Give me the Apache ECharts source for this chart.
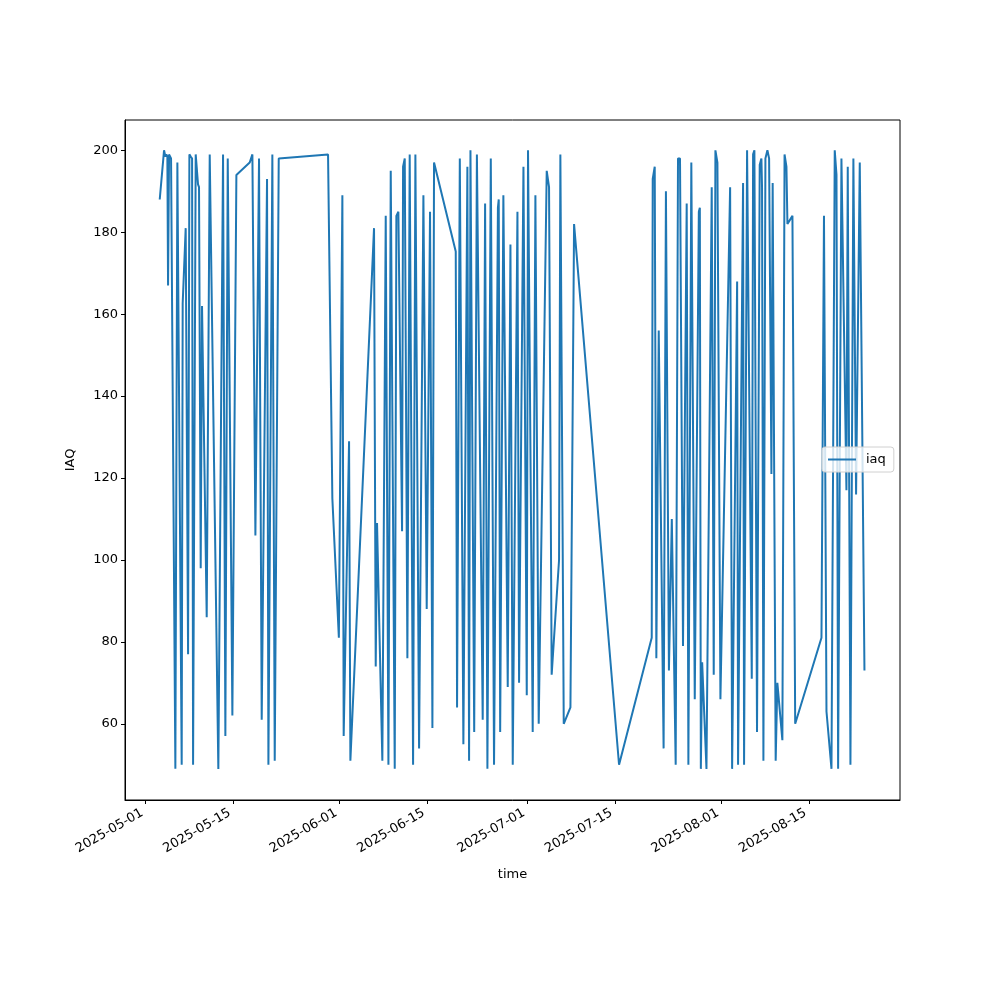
<!DOCTYPE html>
<html>
<head>
<meta charset="utf-8">
<script src="https://cdn.jsdelivr.net/npm/echarts@6/dist/echarts.min.js"></script>
<style>
html,body{margin:0;padding:0;background:#fff;}
#main{width:1000px;height:1000px;}
</style>
</head>
<body>
<div id="main"></div>
<script>
// Days elapsed since 2025-05-01 00:00
var dayOffset = [
2.24,2.93,3.14,3.30,3.46,3.57,3.73,4.05,4.74,5.06,5.75,5.91,6.39,6.77,6.98,7.19,7.41,7.57,7.99,8.36,
8.52,8.79,9.00,9.75,10.23,10.39,11.61,12.36,12.73,13.11,13.85,14.49,16.62,17.05,17.53,18.11,18.54,19.39,19.61,20.24,
20.62,21.26,29.14,29.83,30.87,31.43,31.64,32.50,32.71,36.49,36.76,36.97,37.82,38.36,38.79,39.16,39.80,40.06,40.38,40.97,
41.13,41.40,41.82,42.19,42.73,43.10,43.69,44.38,44.91,45.44,45.82,46.08,49.55,49.76,50.20,50.77,51.41,51.68,51.90,52.50,
52.93,53.86,54.24,54.61,55.15,55.67,56.29,56.42,56.65,57.16,57.86,58.29,58.66,59.41,59.67,60.37,60.90,61.10,61.85,62.28,
62.81,64.09,64.46,64.88,66.06,66.27,66.81,67.88,68.46,75.65,80.87,81.03,81.35,81.61,81.99,82.77,83.14,83.62,84.08,84.70,
85.07,85.39,85.87,86.46,86.73,87.20,87.75,88.40,88.56,88.72,88.93,89.62,90.46,90.78,91.05,91.37,91.85,93.40,93.72,94.52,
94.67,95.47,95.63,96.11,96.86,97.07,97.28,97.70,98.13,98.40,98.50,98.72,99.04,99.36,99.63,100.00,100.20,100.68,100.95,101.75,
102.10,102.40,102.56,103.36,103.80,108.00,108.40,108.80,109.60,110.12,110.40,110.66,111.19,111.99,112.20,112.63,113.10,113.53,114.12,114.87
];
var iaq = [
188,200,198.5,199,198.5,167,199,198,49,197,50,162.6,181,77,199,198.5,198,50,199,191.7,
191,98,162,86,199,199,49,199,57,198,62,194,197,199,106,198,61,193,50,199,
51,198,199,115,81,189,57,129,51,181,74,109,51,184,50,195,49,184,185,107,
196,198,76,199,50,199,54,189,88,185,59,197,175.3,64,198,55,196,51,200,58,
199,61,187,49,198,50,186,188,58,189,69,177,50,185,70,196,67,200,58,189,
60,195,191,72,100,199,60,64,182,50,81,193,196,76,156,54,190,73,110,50,
198,198,79,187,50,197,66,185,186,49,75,49,191,72,200,197,66,191,49,168,
50,192,50,200,71,199,200,58,196.5,198,191,51,198,200,198,121,192,51,70,56,
199,196,182,184,60,81,184,63,49,200,194,49,198,117,196,50,198,116,197,73
];
var tickDates = ['2025-05-01','2025-05-15','2025-06-01','2025-06-15','2025-07-01','2025-07-15','2025-08-01','2025-08-15'];
var yTicks = [60,80,100,120,140,160,180,200];

var DAY = 86400000;
var base = Date.UTC(2025,4,1);
var points = dayOffset.map(function(d,i){ return [base + d*DAY, iaq[i]]; });
var tickVals = tickDates.map(function(s){ var p=s.split('-'); return Date.UTC(+p[0], +p[1]-1, +p[2]); });

var chart = echarts.init(document.getElementById('main'), null, {renderer:'canvas'});
var font = 'DejaVu Sans';
chart.setOption({
  animation:false,
  backgroundColor:'#fff',
  grid:{left:125, right:100, top:120, bottom:200, show:true, borderColor:'#000', borderWidth:1, containLabel:false},
  xAxis:{
    type:'value',
    min: base - 3.31*DAY,
    max: base + 120.55*DAY,
    name:'time', nameLocation:'middle', nameGap:68,
    nameTextStyle:{color:'#000', fontFamily:font, fontSize:13},
    axisLine:{show:true, lineStyle:{color:'#000', width:1}},
    axisTick:{show:true, length:4, lineStyle:{color:'#000'}, customValues: tickVals},
    axisLabel:{
      color:'#000', fontFamily:font, fontSize:13, rotate:30, margin:10,
      padding:[0,4,0,0],
      customValues: tickVals,
      formatter:function(v){ return new Date(v).toISOString().slice(0,10); }
    },
    splitLine:{show:false}
  },
  yAxis:{
    type:'value',
    min:41.4, max:207.4,
    name:'IAQ', nameLocation:'middle', nameGap:48, nameRotate:90,
    nameTextStyle:{color:'#000', fontFamily:font, fontSize:13},
    axisLine:{show:true, lineStyle:{color:'#000', width:1}},
    axisTick:{show:true, length:4, lineStyle:{color:'#000'}, customValues: yTicks},
    axisLabel:{color:'#000', fontFamily:font, fontSize:13, margin:7, customValues: yTicks},
    splitLine:{show:false}
  },
  legend:{
    show:true, left:822, top:447, orient:'vertical',
    padding:[6,8,6,6],
    backgroundColor:'rgba(255,255,255,0.8)',
    borderColor:'#d0d0d0', borderWidth:1, borderRadius:3,
    itemWidth:28, itemHeight:10, itemGap:8,
    textStyle:{color:'#000', fontFamily:font, fontSize:13, padding:[0,0,0,5]},
    data:[{name:'iaq', icon:'path://M0,5 L28,5 L28,7 L0,7 Z'}]
  },
  series:[{
    name:'iaq', type:'line', data:points,
    showSymbol:false, symbol:'none',
    lineStyle:{color:'#1f77b4', width:2},
    itemStyle:{color:'#1f77b4'}
  }]
});
</script>
</body>
</html>
